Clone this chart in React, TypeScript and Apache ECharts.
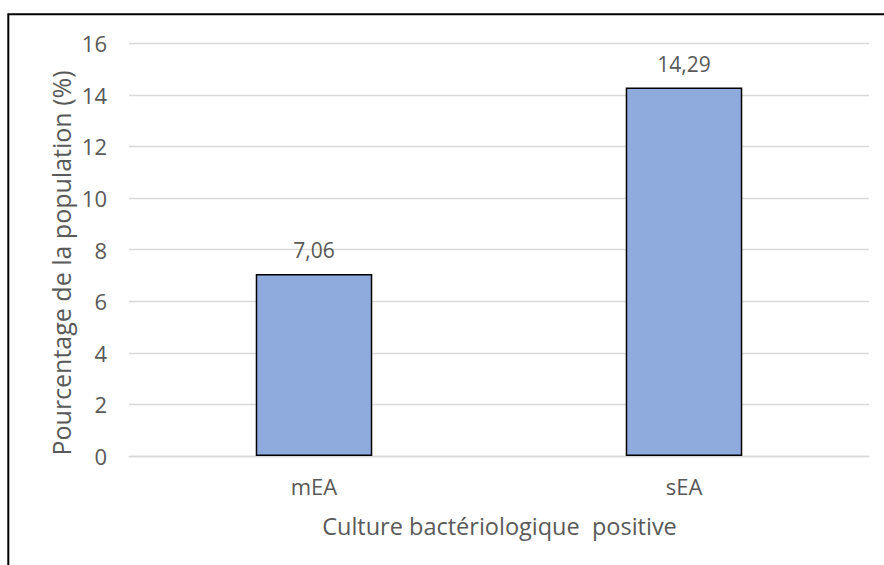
import React, { useEffect, useRef } from "react";
import * as echarts from "echarts";

const categories = ["mEA", "sEA"];
const values = [7.06, 14.29];
const yTicks = { min: 0, max: 16, interval: 2 };
const xTitle = "Culture bactériologique  positive";
const yTitle = "Pourcentage de la population (%)";

const FONT = "Open Sans";
const TEXT = "#595959";

export default function App() {
  const ref = useRef<HTMLDivElement>(null);
  useEffect(() => {
    document.body.style.margin = "0";
    const chart = echarts.init(ref.current!, null, { renderer: "svg" });
    chart.setOption({
      animation: false,
      backgroundColor: "#ffffff",
      textStyle: { fontFamily: FONT, color: TEXT },
      graphic: [
        {
          type: "rect",
          shape: { x: 8.3, y: 14.3, width: 1000, height: 700 },
          style: { fill: "none", stroke: "#000000", lineWidth: 2 },
          silent: true,
        },
        {
          type: "text",
          x: 499.5,
          y: 526,
          style: {
            text: xTitle,
            fill: TEXT,
            font: `23.5px "${FONT}"`,
            align: "center",
            verticalAlign: "middle",
          },
          silent: true,
        },
        {
          type: "text",
          x: 61,
          y: 263,
          rotation: Math.PI / 2,
          style: {
            text: yTitle,
            fill: TEXT,
            font: `25px "${FONT}"`,
            align: "center",
            verticalAlign: "middle",
          },
          silent: true,
        },
      ],
      grid: { left: 129, right: 15, top: 43.3, bottom: 109, containLabel: false },
      xAxis: {
        type: "category",
        data: categories,
        axisLine: { show: true, lineStyle: { color: "#D9D9D9", width: 1.3 } },
        axisTick: { show: false },
        axisLabel: { color: TEXT, fontSize: 22, fontFamily: FONT, margin: 19 },
      },
      yAxis: {
        type: "value",
        min: yTicks.min,
        max: yTicks.max,
        interval: yTicks.interval,
        axisLine: { show: false },
        axisTick: { show: false },
        splitLine: { lineStyle: { color: "#D9D9D9", width: 1.3 } },
        axisLabel: { color: TEXT, fontSize: 22, fontFamily: FONT, margin: 22 },
      },
      series: [
        {
          type: "bar",
          data: values,
          barWidth: "31.5%",
          itemStyle: { color: "#8FAADC", borderColor: "#000000", borderWidth: 1.5 },
          label: {
            show: true,
            position: "top",
            distance: 13,
            color: TEXT,
            fontSize: 21,
            fontFamily: FONT,
            formatter: (p: any) => String(p.value).replace(".", ","),
          },
        },
      ],
    });
    return () => chart.dispose();
  }, []);
  return <div ref={ref} style={{ width: 884, height: 565 }} />;
}
